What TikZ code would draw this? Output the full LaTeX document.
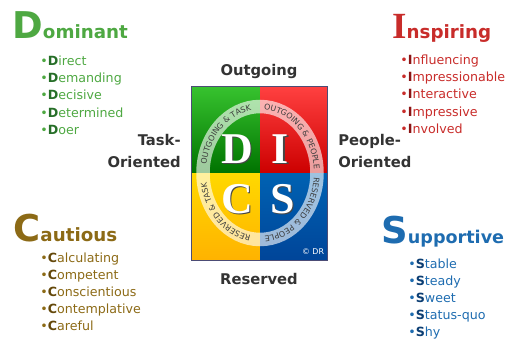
\documentclass[tikz,border=0pt]{standalone}
\usepackage{fontspec}
\setmainfont{DejaVu Sans}
\newfontfamily\letterfont{Liberation Serif}
\usetikzlibrary{decorations.text}
\definecolor{domgreen}{RGB}{78,168,66}
\definecolor{domdark}{RGB}{38,110,40}
\definecolor{insred}{RGB}{200,44,42}
\definecolor{insdark}{RGB}{140,20,20}
\definecolor{cauolive}{RGB}{140,106,22}
\definecolor{caudark}{RGB}{100,72,10}
\definecolor{supblue}{RGB}{30,108,176}
\definecolor{supdark}{RGB}{12,62,115}
\definecolor{labgray}{RGB}{51,51,51}
\definecolor{ringtext}{RGB}{60,60,60}
\definecolor{lettershade}{RGB}{70,70,70}
\tikzset{head/.style={anchor=base west, inner sep=0pt, font=\bfseries\fontsize{10.4}{11}\selectfont}}
\tikzset{item/.style={anchor=base west, inner sep=0pt, font=\fontsize{7.2}{8}\selectfont}}
\tikzset{side/.style={inner sep=0pt, text=labgray, font=\bfseries\fontsize{8.4}{12.4}\selectfont}}
\tikzset{letter/.style={inner sep=0pt, text=white, font=\letterfont\bfseries\fontsize{25}{25}\selectfont}}
\tikzset{ringlabel/.style={decorate, decoration={text along path, text align=center, text color=ringtext}}}
\newcommand{\bigini}[1]{{\fontsize{21}{21}\selectfont #1}}
\newcommand{\lead}[2]{\textbullet{\color{#1}\bfseries #2}}
\newcommand{\shletter}[1]{\makebox[0pt][l]{\kern0.6pt\raisebox{-0.6pt}{\color{lettershade}#1}}#1}
\newcommand{\ringfont}{\fontsize{4.5}{5}\selectfont}

\begin{document}
\begin{tikzpicture}[x=0.02cm, y=-0.02cm]
    \useasboundingbox (0,0) rectangle (507,341);

    % quadrants
    \shade[top color=green!30!domgreen, bottom color=green!45!black] (191,87) rectangle (260,173);
    \shade[top color=red!75!white, bottom color=red!80!black] (260,87) rectangle (327,173);
    \shade[top color=yellow!70!orange, bottom color=orange!60!yellow] (191,173) rectangle (260,260);
    \shade[top color=blue!45!cyan!70!black, bottom color=blue!55!cyan!60!black] (260,173) rectangle (327,260);
    \draw[black!60!blue!40!gray, line width=0.02cm] (191,87) rectangle (327,260);

    % ring
    \draw[white, opacity=0.62, line width=0.27cm] (260,173) ellipse (57 and 66.5);
    \path[ringlabel, decoration={text={|\ringfont|OUTGOING {\&} TASK}}]
        (206,173) arc (180:270:54 and 63.5);
    \path[ringlabel, decoration={text={|\ringfont|OUTGOING {\&} PEOPLE}}]
        (260,109.5) arc (270:360:54 and 63.5);
    \path[ringlabel, decoration={text={|\ringfont|RESERVED {\&} PEOPLE}}]
        (314,173) arc (0:90:54 and 63.5);
    \path[ringlabel, decoration={text={|\ringfont|RESERVED {\&} TASK}}]
        (260,236.5) arc (90:180:54 and 63.5);

    % letters
    \node[letter] (d) at (237.5,149.5) {\shletter{D}};
    \node[letter] (i) at (280.5,149.5) {\shletter{I}};
    \node[letter] (c) at (237.5,199.5) {\shletter{C}};
    \node[letter] (s) at (282.5,199.5) {\shletter{S}};
    \node[inner sep=0pt, text=white, font=\fontsize{4.5}{5}\selectfont] (dr) at (313,252) {\copyright\ DR};

    % axis labels
    \node[side, anchor=base] (out) at (259,76) {Outgoing};
    \node[side, anchor=base] (res) at (259,284) {Reserved};
    \node[side, anchor=base east, align=right] (task) at (181,167) {Task-\\Oriented};
    \node[side, anchor=base west, align=left] (peop) at (338,167) {People-\\Oriented};

    % Dominant
    \node[head, text=domgreen] (dom) at (12,39) {\bigini{D}ominant};
    \node[item, text=domgreen] (d1) at (40,66) {\lead{domdark}{D}irect};
    \node[item, text=domgreen] (d2) at (40,83) {\lead{domdark}{D}emanding};
    \node[item, text=domgreen] (d3) at (40,100) {\lead{domdark}{D}ecisive};
    \node[item, text=domgreen] (d4) at (40,117) {\lead{domdark}{D}etermined};
    \node[item, text=domgreen] (d5) at (40,134) {\lead{domdark}{D}oer};

    % Inspiring
    \node[head, text=insred] (ins) at (392,39) {\bigini{\letterfont I}nspiring};
    \node[item, text=insred] (i1) at (400,65) {\lead{insdark}{I}nfluencing};
    \node[item, text=insred] (i2) at (400,82) {\lead{insdark}{I}mpressionable};
    \node[item, text=insred] (i3) at (400,99) {\lead{insdark}{I}nteractive};
    \node[item, text=insred] (i4) at (400,116) {\lead{insdark}{I}mpressive};
    \node[item, text=insred] (i5) at (400,133) {\lead{insdark}{I}nvolved};

    % Cautious
    \node[head, text=cauolive] (cau) at (13,241) {\bigini{C}autious};
    \node[item, text=cauolive] (c1) at (40,262) {\lead{caudark}{C}alculating};
    \node[item, text=cauolive] (c2) at (40,279) {\lead{caudark}{C}ompetent};
    \node[item, text=cauolive] (c3) at (40,296) {\lead{caudark}{C}onscientious};
    \node[item, text=cauolive] (c4) at (40,313) {\lead{caudark}{C}ontemplative};
    \node[item, text=cauolive] (c5) at (40,330) {\lead{caudark}{C}areful};

    % Supportive
    \node[head, text=supblue, font=\bfseries\fontsize{10}{11}\selectfont] (sup) at (381,243) {\bigini{S}upportive};
    \node[item, text=supblue] (s1) at (408,268) {\lead{supdark}{S}table};
    \node[item, text=supblue] (s2) at (408,285) {\lead{supdark}{S}teady};
    \node[item, text=supblue] (s3) at (408,302) {\lead{supdark}{S}weet};
    \node[item, text=supblue] (s4) at (408,319) {\lead{supdark}{S}tatus-quo};
    \node[item, text=supblue] (s5) at (408,336) {\lead{supdark}{S}hy};
\end{tikzpicture}
\end{document}
